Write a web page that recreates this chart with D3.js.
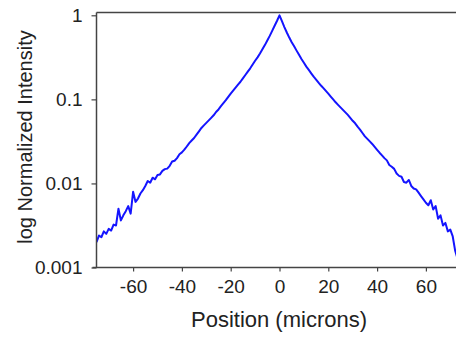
<!DOCTYPE html>
<html>
<head>
<meta charset="utf-8">
<script src="https://cdn.jsdelivr.net/npm/d3@7"></script>
<style>
  html, body { margin: 0; padding: 0; background: #fff; }
  svg { display: block; }
  text { font-family: "Liberation Sans", Arial, sans-serif; fill: #222; }
</style>
</head>
<body>
<svg id="chart" width="456" height="341"></svg>
<script>
// Beam profile: position (microns) and normalized intensity (log scale)
const positions = [
  -75,-74,-73,-72,-71,-70,-69,-68,-67,-66,-65,-64,-63,-62,-61,-60,-59,-58,-57,-56,
  -55,-54,-53,-52,-51,-50,-49,-48,-47,-46,-45,-44,-43,-42,-41,-40,-39,-38,-37,-36,
  -35,-34,-33,-32,-31,-30,-29,-28,-27,-26,-25,-24,-23,-22,-21,-20,-19,-18,-17,-16,
  -15,-14,-13,-12,-11,-10,-9,-8,-7,-6,-5,-4,-3,-2,-1,0,
  1,2,3,4,5,6,7,8,9,10,11,12,13,14,15,16,17,18,19,20,
  21,22,23,24,25,26,27,28,29,30,31,32,33,34,35,36,37,38,39,40,
  41,42,43,44,45,46,47,48,49,50,51,52,53,54,55,56,57,58,59,60,
  61,62,63,64,65,66,67,68,69,70,71,72,73,74,75
];
const intensity = [
  0.00200,0.00240,0.00229,0.00269,0.00251,0.00288,0.00275,0.00324,0.00316,0.00501,
  0.00363,0.00417,0.00468,0.00537,0.00437,0.00794,0.00603,0.00661,0.00759,0.00832,
  0.00933,0.0107,0.0102,0.0117,0.0112,0.0126,0.0128,0.0141,0.0148,0.0150,
  0.0162,0.0182,0.0186,0.0200,0.0222,0.0234,0.0252,0.0275,0.0302,0.0324,
  0.0347,0.0380,0.0417,0.0457,0.0490,0.0525,0.0562,0.0603,0.0646,0.0708,
  0.0759,0.0832,0.0902,0.0977,0.107,0.117,0.127,0.138,0.150,0.162,
  0.178,0.195,0.214,0.234,0.260,0.288,0.316,0.351,0.394,0.442,
  0.501,0.569,0.653,0.750,0.861,1.000,
  0.851,0.724,0.624,0.543,0.479,0.427,0.380,0.339,0.302,0.272,
  0.245,0.224,0.204,0.186,0.172,0.158,0.146,0.136,0.126,0.117,
  0.108,0.100,0.0923,0.0861,0.0804,0.0750,0.0700,0.0653,0.0603,0.0556,
  0.0519,0.0473,0.0437,0.0398,0.0363,0.0339,0.0316,0.0295,0.0272,0.0251,
  0.0232,0.0216,0.0200,0.0188,0.0166,0.0158,0.0149,0.0131,0.0123,0.0120,
  0.0104,0.0102,0.0110,0.00933,0.00871,0.00850,0.00776,0.00708,0.00646,0.00589,
  0.00550,0.00631,0.00490,0.00537,0.00380,0.00417,0.00316,0.00339,0.00269,0.00282,
  0.00234,0.00158,0.00126,0.00112,0.00100
];
const xTicks = [-60, -40, -20, 0, 20, 40, 60];
const yTicks = [0.001, 0.01, 0.1, 1];
const yTickLabels = ["0.001", "0.01", "0.1", "1"];
const xTitle = "Position (microns)";
const yTitle = "log Normalized Intensity";

const svg = d3.select("#chart");
const plotLeft = 96.5, plotTop = 12.5, plotBottom = 267.5, plotRight = 470;

const x = d3.scaleLinear().domain([-75, 75]).range([plotLeft, 462.5]);
const y = d3.scaleLog().domain([0.001, 1]).range([plotBottom, 15.3]);

const axisColor = "#444";

// Data line (clipped to the plot area)
svg.append("clipPath").attr("id", "plotclip")
  .append("rect").attr("x", plotLeft).attr("y", plotTop)
  .attr("width", plotRight - plotLeft).attr("height", plotBottom - plotTop);

const line = d3.line()
  .x((d, i) => x(positions[i]))
  .y(d => y(d));

svg.append("path")
  .datum(intensity)
  .attr("clip-path", "url(#plotclip)")
  .attr("fill", "none")
  .attr("stroke", "#1414ff")
  .attr("stroke-width", 2)
  .attr("stroke-linejoin", "round")
  .attr("d", line);

// Top frame line
svg.append("line")
  .attr("x1", plotLeft).attr("x2", plotRight).attr("y1", plotTop).attr("y2", plotTop)
  .attr("stroke", axisColor).attr("stroke-width", 1.5);

// Bottom axis
const gx = svg.append("g").attr("transform", `translate(0,${plotBottom})`)
  .call(d3.axisBottom(x).tickValues(xTicks).tickSize(4).tickSizeOuter(0).tickPadding(8));
gx.select(".domain").attr("stroke", axisColor).attr("stroke-width", 1.5)
  .attr("d", `M${plotLeft - 4},0H${plotRight}`);
gx.selectAll(".tick line").attr("stroke", axisColor).attr("stroke-width", 1.2);
gx.selectAll(".tick text").attr("font-size", 19).attr("fill", "#222")
  .attr("font-family", "'Liberation Sans', Arial, sans-serif")
  .text(d => d < 0 ? "-" + Math.abs(d) : String(d));

// Left axis
const gy = svg.append("g").attr("transform", `translate(${plotLeft},0)`)
  .call(d3.axisLeft(y).tickValues(yTicks).tickSize(5).tickSizeOuter(0).tickPadding(9)
    .tickFormat((d, i) => yTickLabels[i]));
gy.select(".domain").attr("stroke", axisColor).attr("stroke-width", 1.5)
  .attr("d", `M0,${plotTop}V${plotBottom}`);
gy.selectAll(".tick line").attr("stroke", axisColor).attr("stroke-width", 1.2);
gy.selectAll(".tick text").attr("font-size", 19).attr("fill", "#222")
  .attr("font-family", "'Liberation Sans', Arial, sans-serif");

// Axis titles
svg.append("text")
  .attr("x", 279).attr("y", 327)
  .attr("text-anchor", "middle")
  .attr("font-size", 22)
  .text(xTitle);

svg.append("text")
  .attr("transform", "translate(31.5,137) rotate(-90)")
  .attr("text-anchor", "middle")
  .attr("font-size", 20)
  .text(yTitle);
</script>
</body>
</html>
